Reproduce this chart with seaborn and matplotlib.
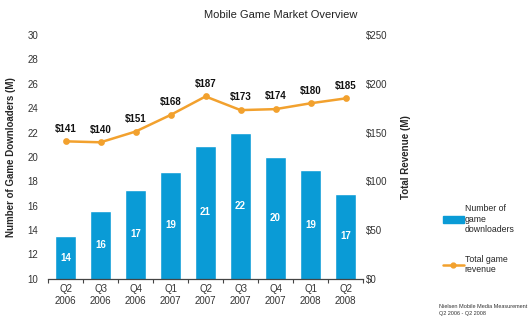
import matplotlib
matplotlib.use("Agg")
import matplotlib.pyplot as plt
import seaborn as sns
import numpy as np
import pandas as pd
from matplotlib.patches import Patch
from matplotlib.lines import Line2D

quarters = ["Q2\n2006", "Q3\n2006", "Q4\n2006", "Q1\n2007", "Q2\n2007",
            "Q3\n2007", "Q4\n2007", "Q1\n2008", "Q2\n2008"]
downloaders = [13.5, 15.6, 17.3, 18.8, 20.9, 22.0, 20.0, 18.9, 17.0]
downloader_labels = ["14", "16", "17", "19", "21", "22", "20", "19", "17"]
revenue = [141, 140, 151, 168, 187, 173, 174, 180, 185]
revenue_labels = ["$141", "$140", "$151", "$168", "$187", "$173", "$174", "$180", "$185"]
left_ticks = [10, 12, 14, 16, 18, 20, 22, 24, 26, 28, 30]
right_ticks = [0, 50, 100, 150, 200, 250]
right_tick_labels = ["$0", "$50", "$100", "$150", "$200", "$250"]

sns.set_theme(style="white")
plt.rcParams["font.family"] = ["Liberation Sans", "DejaVu Sans"]

BLUE = "#0A9BD6"
ORANGE = "#F2A12E"

df = pd.DataFrame({"quarter": quarters, "downloaders": downloaders, "revenue": revenue})

fig = plt.figure(figsize=(5.3, 3.32), dpi=100)
ax = fig.add_axes([0.0906, 0.16, 0.5944, 0.7346])

sns.barplot(data=df, x="quarter", y="downloaders", color=BLUE, saturation=1,
            width=0.6, ax=ax)
ax.set_ylim(10, 30)
ax.set_xlim(-0.5, 8.5)
ax.set_yticks(left_ticks)
ax.tick_params(axis="y", length=0, pad=7, labelsize=7, colors="#333333")
ax.tick_params(axis="x", which="major", length=0, pad=4, labelsize=7, colors="#333333")
ax.set_xticks(np.arange(-0.5, 9, 1.0), minor=True)
ax.tick_params(axis="x", which="minor", length=3, width=0.8, color="#444444", bottom=True)
ax.set_xlabel("")
ax.set_ylabel("Number of Game Downloaders (M)", fontsize=7, fontweight="bold", labelpad=8)
for s in ["left", "right", "top"]:
    ax.spines[s].set_visible(False)
ax.spines["bottom"].set_color("#444444")
ax.spines["bottom"].set_linewidth(0.9)
ax.grid(False)

for i, (v, lab) in enumerate(zip(downloaders, downloader_labels)):
    ax.text(i, (v + 10) / 2, lab, ha="center", va="center", color="white",
            fontsize=7, fontweight="bold")

ax2 = ax.twinx()
sns.pointplot(data=df, x="quarter", y="revenue", color=ORANGE, ax=ax2,
              markers="o", linestyles="-", markersize=3.5, linewidth=1.8)
ax2.set_xlim(-0.5, 8.5)
ax2.set_ylim(0, 250)
ax2.set_yticks(right_ticks)
ax2.set_yticklabels(right_tick_labels)
ax2.tick_params(axis="y", length=0, pad=2, labelsize=7, colors="#333333")
ax2.set_ylabel("Total Revenue (M)", fontsize=7, fontweight="bold", labelpad=10)
for s in ["left", "right", "top", "bottom"]:
    ax2.spines[s].set_visible(False)
ax2.grid(False)
ax2.set_xlabel("")

for i, (v, lab) in enumerate(zip(revenue, revenue_labels)):
    ax2.annotate(lab, (i, v), xytext=(0, 5.5), textcoords="offset points",
                 ha="center", va="bottom", fontsize=7, fontweight="bold", color="#111111")

fig.text(0.53, 0.955, "Mobile Game Market Overview", ha="center", va="center",
         fontsize=8, color="#222222")

handles = [Patch(facecolor=BLUE, edgecolor=BLUE),
           Line2D([0], [0], color=ORANGE, lw=1.8, marker="o", markersize=3.5)]
fig.legend(handles, ["Number of\ngame\ndownloaders", "Total game\nrevenue"],
           loc="upper left", bbox_to_anchor=(0.835, 0.385), frameon=False,
           fontsize=6.3, handlelength=2.4, handletextpad=0.15, labelspacing=2.4,
           borderaxespad=0, borderpad=0)

fig.text(0.828, 0.065, "Nielsen Mobile Media Measurement\nQ2 2006 - Q2 2008",
         ha="left", va="center", fontsize=4.0, color="#333333", linespacing=1.5)

fig.savefig("out.png", dpi=100)
